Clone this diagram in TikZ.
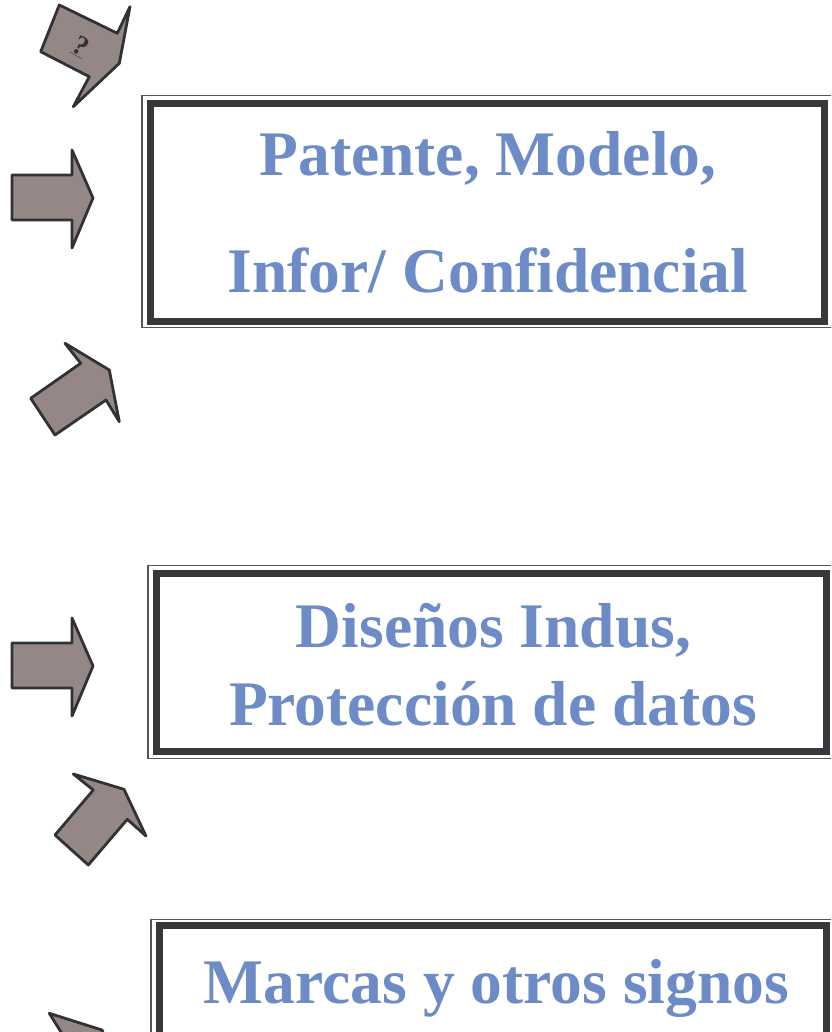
\documentclass[tikz,border=0pt]{standalone}
\usepackage{fontspec}
\setmainfont{Liberation Serif}
\definecolor{txtblue}{RGB}{108,139,199}
\definecolor{boxdark}{RGB}{56,56,60}
\definecolor{boxthin}{RGB}{85,85,88}
\definecolor{arrfill}{RGB}{148,135,133}
\definecolor{arrline}{RGB}{50,50,52}
\begin{document}
\begin{tikzpicture}[x=1pt,y=-1pt,
  thinframe/.style={draw=boxthin,line width=1.4pt},
  thickframe/.style={draw=boxdark,line width=7pt},
  blocktext/.style={text=txtblue,font=\fontsize{63.5}{70}\selectfont\bfseries,anchor=base,inner sep=0pt},
  arrowshape/.style={fill=arrfill,draw=arrline,line width=2.8pt,line join=round}]
\useasboundingbox (0,0) rectangle (831,1032);
\clip (0,0) rectangle (831,1032);
% box 1
\draw[thinframe] (142,95.5) rectangle (840,327.5);
\draw[thickframe] (150.5,103.5) rectangle (824,321);
\node[blocktext] (t1) at (488,176) {Patente, Modelo,};
\node[blocktext] (t2) at (488,292) {Infor/ Confidencial};
% box 2
\draw[thinframe] (148,565.5) rectangle (840,758.5);
\draw[thickframe] (156.5,573) rectangle (826,751);
\node[blocktext] (t3) at (493.5,647) {Diseños Indus,};
\node[blocktext] (t4) at (493,725) {Protección de datos};
% box 3
\draw[thinframe] (151,919.5) rectangle (840,1050);
\draw[thickframe] (159,925) rectangle (826,1050);
\node[blocktext] (t5) at (496.5,1003) {Marcas y otros signos};
% arrows
\draw[arrowshape] (59.3,5) -- (117.3,33.3) -- (130,6.7) -- (119.3,63.3) -- (73.3,106.7) -- (89.3,76.7) -- (40.7,51.7) -- cycle;
\node[rotate=-30,text=arrline,font=\fontsize{28}{30}\selectfont\bfseries] (q) at (81,47) {\underline{?}};
\draw[arrowshape] (12,175) -- (72,175) -- (72,150) -- (93,198) -- (72,248) -- (72,220) -- (12,220) -- cycle;
\draw[arrowshape] (30.7,398.3) -- (80.7,363.3) -- (65,343.3) -- (109.3,370) -- (119.3,421.7) -- (106,400) -- (55,435) -- cycle;
\draw[arrowshape] (12,643) -- (72,643) -- (72,618) -- (93,666) -- (72,716) -- (72,688) -- (12,688) -- cycle;
\draw[arrowshape] (55,835) -- (93.3,790) -- (73.3,774) -- (124,789.3) -- (146,836) -- (127.3,819.3) -- (88.3,865) -- cycle;
\draw[arrowshape] (49.3,1013.3) -- (102,1030) -- (106,1040) -- (66,1040) -- cycle;
\end{tikzpicture}
\end{document}
